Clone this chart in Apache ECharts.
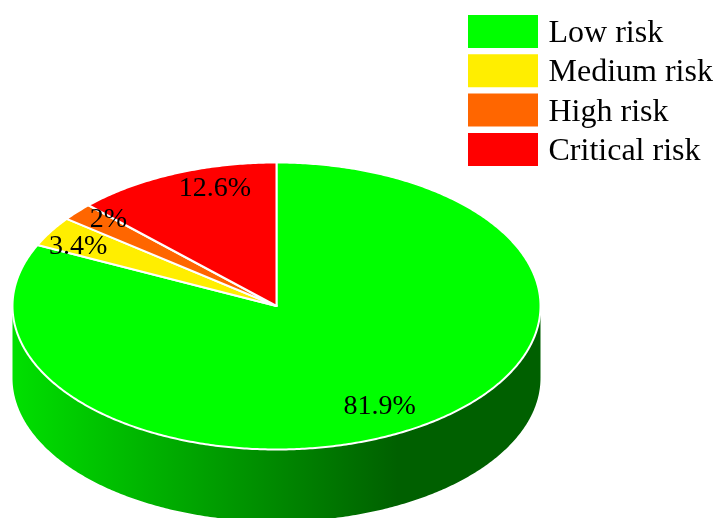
<!DOCTYPE html>
<html>
<head>
<meta charset="utf-8">
<style>html,body{margin:0;padding:0;background:#fff}#chart{width:713px;height:518px}</style>
<script src="https://cdn.jsdelivr.net/npm/echarts@6/dist/echarts.min.js"></script>
</head>
<body>
<div id="chart"></div>
<script>
// Risk share by category
const categories = ['Low risk', 'Medium risk', 'High risk', 'Critical risk'];
const shares = [81.9, 3.4, 2, 12.6];
const colors = ['#00ff00', '#ffee00', '#ff6600', '#ff0000'];

// Disc geometry in pixels
const disc = { cx: 276.5, cy: 306, rx: 264, ry: 143.5, depth: 72 };
// Label centre as a fraction of the radii, along each slice's middle direction
const labelReach = [[0.729, 0.835], [0.879, 0.80], [0.844, 0.92], [0.605, 0.89]];

const total = shares.reduce((a, b) => a + b, 0);
const TAU = Math.PI * 2;

function rim(angle, drop) {
  // Angles run clockwise from twelve o'clock
  return [disc.cx + disc.rx * Math.sin(angle), disc.cy - disc.ry * Math.cos(angle) + drop];
}

function arc(from, to, drop) {
  const steps = Math.max(2, Math.ceil((to - from) / 0.01));
  const pts = [];
  for (let i = 0; i <= steps; i++) pts.push(rim(from + (to - from) * i / steps, drop));
  return pts;
}

const wallFill = new echarts.graphic.LinearGradient(13, 0, 540, 0, [
  { offset: 0, color: '#00e000' },
  { offset: 0.73, color: '#006000' },
  { offset: 1, color: '#006000' }
], true);

function renderSlice(params, api) {
  const i = params.seriesIndex;
  const value = api.value(0);
  const before = shares.slice(0, i).reduce((a, b) => a + b, 0);
  const start = before / total * TAU;
  const end = start + value / total * TAU;
  const mid = (start + end) / 2;
  const children = [];

  // The wall only shows on the front half of the disc
  const wallFrom = Math.max(start, Math.PI / 2);
  const wallTo = Math.min(end, Math.PI * 3 / 2);
  if (wallTo > wallFrom) {
    children.push({
      type: 'polygon',
      shape: { points: arc(wallFrom, wallTo, 0).concat(arc(wallFrom, wallTo, disc.depth).reverse()) },
      style: { fill: wallFill, stroke: null },
      z2: 1
    });
  }

  children.push({
    type: 'polygon',
    shape: { points: [[disc.cx, disc.cy]].concat(arc(start, end, 0)) },
    style: { fill: api.visual('color'), stroke: '#fff', lineWidth: 2, lineJoin: 'round' },
    z2: 2 + i
  });

  const reach = labelReach[i];
  children.push({
    type: 'text',
    style: {
      text: value + '%',
      x: disc.cx + disc.rx * reach[0] * Math.sin(mid),
      y: disc.cy - disc.ry * reach[1] * Math.cos(mid),
      font: '28px "Liberation Serif"',
      fill: '#000',
      align: 'center',
      verticalAlign: 'middle'
    },
    z2: 20
  });

  return { type: 'group', children };
}

const chart = echarts.init(document.getElementById('chart'), null, { renderer: 'canvas' });
chart.setOption({
  animation: false,
  legend: {
    left: 468,
    top: 13.5,
    padding: 0,
    orient: 'vertical',
    icon: 'rect',
    itemWidth: 70,
    itemHeight: 33,
    itemGap: 3.3,
    selectedMode: false,
    data: categories,
    formatter: '{entry|{name}}',
    textStyle: {
      rich: {
        entry: {
          fontFamily: 'Liberation Serif',
          fontSize: 32,
          lineHeight: 33,
          color: '#000',
          padding: [4, 0, 0, 5.5]
        }
      }
    }
  },
  series: categories.map((name, i) => ({
    type: 'custom',
    name,
    coordinateSystem: 'none',
    clip: false,
    silent: true,
    itemStyle: { color: colors[i] },
    renderItem: renderSlice,
    data: [[shares[i]]]
  }))
});
</script>
</body>
</html>
